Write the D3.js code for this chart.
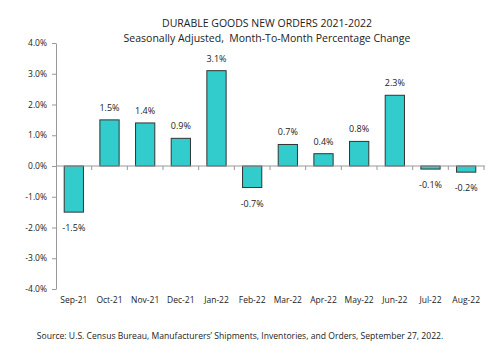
<!DOCTYPE html>
<html>
<head>
<meta charset="utf-8">
<script src="https://cdn.jsdelivr.net/npm/d3@7"></script>
<style>
  body { margin: 0; background: #fff; }
  svg text { font-family: "Open Sans", "Liberation Sans", sans-serif; fill: #222; }
</style>
</head>
<body>
<div id="chart"></div>
<script>
const months = ['Sep-21', 'Oct-21', 'Nov-21', 'Dec-21', 'Jan-22', 'Feb-22',
    'Mar-22', 'Apr-22', 'May-22', 'Jun-22', 'Jul-22', 'Aug-22'];
const changes = [-1.5, 1.5, 1.4, 0.9, 3.1, -0.7, 0.7, 0.4, 0.8, 2.3, -0.1, -0.2];
const yTicks = [4, 3, 2, 1, 0, -1, -2, -3, -4];

const width = 495, height = 351;
const margin = {top: 43, right: 10, bottom: 62, left: 56};

const svg = d3.select('#chart').append('svg')
    .attr('width', width)
    .attr('height', height);

// Titles
svg.append('text')
    .attr('x', 267).attr('y', 27)
    .attr('text-anchor', 'middle')
    .style('font-size', '10.5px')
    .text('DURABLE GOODS NEW ORDERS 2021-2022');

svg.append('text')
    .attr('x', 267).attr('y', 42)
    .attr('text-anchor', 'middle')
    .style('font-size', '10.5px')
    .style('white-space', 'pre')
    .text('Seasonally Adjusted,  Month-To-Month Percentage Change');

const chart = svg.append('g')
    .attr('transform', `translate(${margin.left},${margin.top})`);

const innerW = width - margin.left - margin.right;
const innerH = 289 - margin.top;

const xScale = d3.scaleBand()
    .domain(months)
    .range([0, innerW - 1])
    .paddingInner(0.46)
    .paddingOuter(0.23);

const yScale = d3.scaleLinear()
    .domain([-4, 4])
    .range([innerH, 0]);

// Y axis
const yAxis = d3.axisLeft(yScale)
    .tickValues(yTicks)
    .tickSize(4)
    .tickSizeOuter(0)
    .tickFormat(d => d.toFixed(1) + '%');

const yAxisG = chart.append('g').call(yAxis);
yAxisG.select('.domain').attr('stroke', '#999');
yAxisG.selectAll('.tick line').attr('stroke', '#999').attr('x2', 0).attr('x1', -4);
yAxisG.selectAll('.tick text')
    .style('font-size', '8.5px')
    .style('font-family', '"Open Sans", sans-serif')
    .attr('fill', '#222')
    .attr('x', -9);

// Bars
chart.selectAll('rect.bar')
    .data(changes)
    .join('rect')
    .attr('class', 'bar')
    .attr('x', (d, i) => xScale(months[i]))
    .attr('y', d => yScale(Math.max(0, d)))
    .attr('width', xScale.bandwidth())
    .attr('height', d => Math.abs(yScale(d) - yScale(0)))
    .attr('fill', '#33CCCC')
    .attr('stroke', '#333')
    .attr('stroke-width', 1);

// Zero axis with category boundary ticks
const step = xScale.step();
const zeroY = yScale(0);
chart.append('line')
    .attr('x1', 0).attr('x2', innerW)
    .attr('y1', zeroY).attr('y2', zeroY)
    .attr('stroke', '#999');
chart.selectAll('line.xtick')
    .data(d3.range(1, months.length + 1))
    .join('line')
    .attr('class', 'xtick')
    .attr('x1', i => i * step).attr('x2', i => i * step)
    .attr('y1', zeroY).attr('y2', zeroY + 4)
    .attr('stroke', '#999');

// Value labels
chart.selectAll('text.val')
    .data(changes)
    .join('text')
    .attr('class', 'val')
    .attr('x', (d, i) => xScale(months[i]) + xScale.bandwidth() / 2)
    .attr('y', d => d >= 0 ? yScale(d) - 9 : yScale(d) + 19)
    .attr('text-anchor', 'middle')
    .style('font-size', '9px')
    .text(d => d.toFixed(1) + '%');

// X labels
chart.selectAll('text.xlab')
    .data(months)
    .join('text')
    .attr('class', 'xlab')
    .attr('x', d => xScale(d) + xScale.bandwidth() / 2)
    .attr('y', 303 - margin.top)
    .attr('text-anchor', 'middle')
    .style('font-size', '8.5px')
    .text(d => d);

// Source
svg.append('text')
    .attr('x', 240).attr('y', 339)
    .attr('text-anchor', 'middle')
    .style('font-size', '8.6px')
    .text('Source: U.S. Census Bureau, Manufacturers\u2019 Shipments, Inventories, and Orders, September 27, 2022.');
</script>
</body>
</html>
